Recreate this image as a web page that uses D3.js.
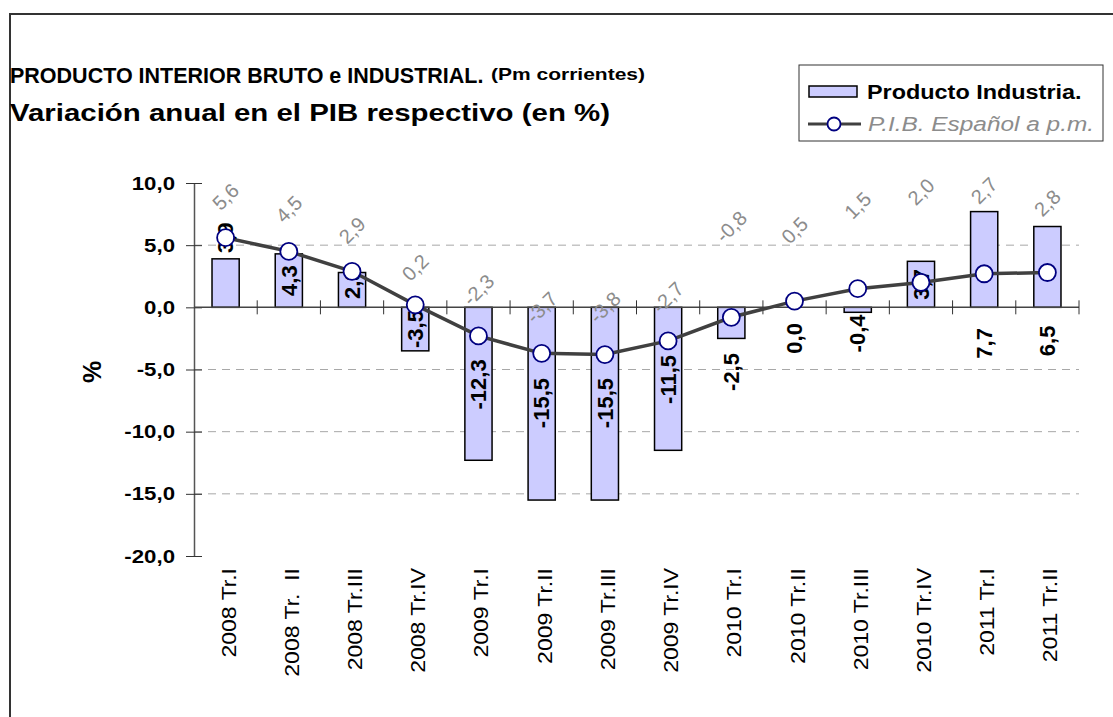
<!DOCTYPE html>
<html lang="es">
  <head>
    <meta charset="UTF-8" />
    <title>Producto Interior Bruto e Industrial</title>
    <script src="https://d3js.org/d3.v7.min.js"></script>
    <style>
      body {
        margin: 0;
        background: #fff;
        font-family: "Liberation Sans", Arial, sans-serif;
      }
      svg {
        display: block;
      }
      .grid line {
        stroke: #a8a8a8;
        stroke-dasharray: 8 6;
      }
      .bar {
        fill: #ccccff;
        stroke: #000;
        stroke-width: 1.5px;
      }
      .bar-label {
        font-weight: bold;
        font-size: 22px;
        fill: #000;
      }
      .pib-label {
        font-size: 20px;
        fill: #8c8c8c;
      }
    </style>
  </head>
  <body>
    <svg id="chart" width="1113" height="717"></svg>

    <script>
      // ---------------- datos ----------------
      const trimestres = [
        "2008 Tr.I", "2008 Tr.  II", "2008 Tr.III", "2008 Tr.IV",
        "2009 Tr.I", "2009 Tr.II", "2009 Tr.III", "2009 Tr.IV",
        "2010 Tr.I", "2010 Tr.II", "2010 Tr.III", "2010 Tr.IV",
        "2011 Tr.I", "2011 Tr.II"
      ];
      // Producto Industria (barras)
      const industria = [3.9, 4.3, 2.8, -3.5, -12.3, -15.5, -15.5, -11.5, -2.5, 0.0, -0.4, 3.7, 7.7, 6.5];
      // P.I.B. Español a p.m. (línea)
      const pib = [5.6, 4.5, 2.9, 0.2, -2.3, -3.7, -3.8, -2.7, -0.8, 0.5, 1.5, 2.0, 2.7, 2.8];
      const yTicks = [10, 5, 0, -5, -10, -15, -20];

      // dónde quedaron las etiquetas (en unidades del eje, movidas a mano en el original)
      const barLabelAt = [5.6, 2.15, 1.9, -1.75, -6.2, -7.7, -7.7, -5.8, -5.2, -2.5, -2.1, 1.85, -2.9, -2.7];
      const pibLabelAt = [8.9, 7.9, 6.2, 3.2, 1.4, 0.0, 0.0, 0.8, 6.5, 6.2, 8.2, 9.3, 9.4, 8.4];

      // ---------------- configuración ----------------
      const svg = d3.select("#chart");
      const plotLeft = 194, plotRight = 1079, plotTop = 183, plotBottom = 556;

      const es = d3.formatLocale({ decimal: ",", thousands: ".", grouping: [3], currency: ["", " €"], minus: "-" });
      const fmt = es.format(".1f");

      const x = d3.scaleBand().domain(trimestres).range([plotLeft, plotRight]).paddingInner(0.57).paddingOuter(0.285);
      const y = d3.scaleLinear().domain([-20, 10]).range([plotBottom, plotTop]);
      const cx = (i) => x(trimestres[i]) + x.bandwidth() / 2;

      // el texto del original sale algo más ancho que Arial: lo estiramos un poco
      function stretch(sel, k) {
        sel.each(function () {
          const w = this.getComputedTextLength();
          d3.select(this).attr("textLength", w * k).attr("lengthAdjust", "spacingAndGlyphs");
        });
      }

      // marco del gráfico
      svg.append("rect")
        .attr("x", 10).attr("y", 14).attr("width", 1200).attr("height", 800)
        .attr("fill", "none").attr("stroke", "#333").attr("stroke-width", 2);

      // títulos
      svg.append("text").attr("x", 10).attr("y", 83)
        .style("font-weight", "bold").style("font-size", "21.5px")
        .text("PRODUCTO INTERIOR BRUTO e INDUSTRIAL.");
      svg.append("text").attr("x", 491).attr("y", 80)
        .style("font-weight", "bold").style("font-size", "17px")
        .attr("textLength", 154).attr("lengthAdjust", "spacingAndGlyphs")
        .text("(Pm corrientes)");
      svg.append("text").attr("x", 10).attr("y", 121)
        .style("font-weight", "bold").style("font-size", "23px")
        .attr("textLength", 600).attr("lengthAdjust", "spacingAndGlyphs")
        .text("Variación anual en el PIB respectivo (en %)");

      // líneas de división
      svg.append("g").attr("class", "grid")
        .selectAll("line")
        .data(yTicks.filter((d) => d !== 0 && d !== 10 && d !== -20))
        .join("line")
        .attr("x1", plotLeft).attr("x2", plotRight)
        .attr("y1", (d) => y(d)).attr("y2", (d) => y(d));

      // eje Y
      const yAxis = svg.append("g")
        .attr("transform", `translate(${plotLeft},0)`)
        .call(d3.axisLeft(y).tickValues(yTicks).tickFormat(fmt).tickSizeInner(8).tickSizeOuter(0).tickPadding(11));
      yAxis.select(".domain").attr("stroke", "#555").attr("stroke-width", 1.5);
      yAxis.selectAll(".tick line").attr("x2", 8).attr("x1", -8).attr("stroke", "#333");
      yAxis.selectAll(".tick text")
        .style("font-family", "'Liberation Sans', Arial, sans-serif")
        .style("font-size", "19px").style("font-weight", "bold").attr("fill", "#000")
        .call(stretch, 1.17);

      svg.append("text")
        .attr("transform", `translate(101,372) rotate(-90)`)
        .attr("text-anchor", "middle")
        .style("font-weight", "bold").style("font-size", "25px")
        .text("%");

      // barras
      svg.append("g").selectAll("rect")
        .data(industria)
        .join("rect")
        .attr("class", "bar")
        .attr("x", (d, i) => x(trimestres[i]))
        .attr("width", x.bandwidth())
        .attr("y", (d) => y(Math.max(0, d)))
        .attr("height", (d) => Math.abs(y(d) - y(0)));

      // eje X (línea del cero + marcas entre categorías)
      svg.append("line")
        .attr("x1", plotLeft).attr("x2", plotRight)
        .attr("y1", y(0)).attr("y2", y(0))
        .attr("stroke", "#444").attr("stroke-width", 1.5);
      svg.append("g").selectAll("line")
        .data(d3.range(1, trimestres.length + 1))
        .join("line")
        .attr("x1", (i) => plotLeft + i * x.step()).attr("x2", (i) => plotLeft + i * x.step())
        .attr("y1", y(0) - 7).attr("y2", y(0) + 7)
        .attr("stroke", "#333");

      // etiquetas de categoría
      svg.append("g").selectAll("text")
        .data(trimestres)
        .join("text")
        .attr("transform", (d) => `translate(${x(d) + x.bandwidth() / 2 + 10},568) rotate(-90)`)
        .attr("text-anchor", "end")
        .style("font-size", "20px")
        .style("white-space", "pre")
        .text((d) => d)
        .call(stretch, 1.15);

      // línea del PIB
      const line = d3.line().x((d, i) => cx(i)).y((d) => y(d));
      svg.append("path")
        .datum(pib)
        .attr("d", line)
        .attr("fill", "none")
        .attr("stroke", "#404040")
        .attr("stroke-width", 3.5);

      // etiquetas de las barras
      svg.append("g").selectAll("text")
        .data(industria)
        .join("text")
        .attr("class", "bar-label")
        .attr("transform", (d, i) => `translate(${cx(i)},${y(barLabelAt[i])}) rotate(-90)`)
        .attr("text-anchor", "middle")
        .attr("dy", "0.35em")
        .text((d) => fmt(d));

      // marcadores
      svg.append("g").selectAll("circle")
        .data(pib)
        .join("circle")
        .attr("cx", (d, i) => cx(i))
        .attr("cy", (d) => y(d))
        .attr("r", 8.5)
        .attr("fill", "#fff")
        .attr("stroke", "#000080")
        .attr("stroke-width", 1.8);

      // etiquetas del PIB
      svg.append("g").selectAll("text")
        .data(pib)
        .join("text")
        .attr("class", "pib-label")
        .attr("transform", (d, i) => `translate(${cx(i)},${y(pibLabelAt[i])}) rotate(-45)`)
        .attr("text-anchor", "middle")
        .attr("dy", "0.35em")
        .text((d) => fmt(d));

      // leyenda
      const lg = svg.append("g");
      lg.append("rect")
        .attr("x", 799).attr("y", 65).attr("width", 304).attr("height", 76)
        .attr("fill", "#fff").attr("stroke", "#333");
      lg.append("rect")
        .attr("x", 809).attr("y", 86).attr("width", 48).attr("height", 11)
        .attr("fill", "#ccccff").attr("stroke", "#000").attr("stroke-width", 1.5);
      lg.append("text").attr("x", 867).attr("y", 99)
        .style("font-weight", "bold").style("font-size", "20px")
        .text("Producto Industria.")
        .call(stretch, 1.17);
      lg.append("line")
        .attr("x1", 808).attr("x2", 861).attr("y1", 124).attr("y2", 124)
        .attr("stroke", "#404040").attr("stroke-width", 3);
      lg.append("circle")
        .attr("cx", 834).attr("cy", 124).attr("r", 6.5)
        .attr("fill", "#fff").attr("stroke", "#000080").attr("stroke-width", 1.8);
      lg.append("text").attr("x", 868).attr("y", 131)
        .style("font-style", "italic").style("font-size", "20px").attr("fill", "#8c8c8c")
        .text("P.I.B. Español a p.m.")
        .call(stretch, 1.22);
    </script>
  </body>
</html>
